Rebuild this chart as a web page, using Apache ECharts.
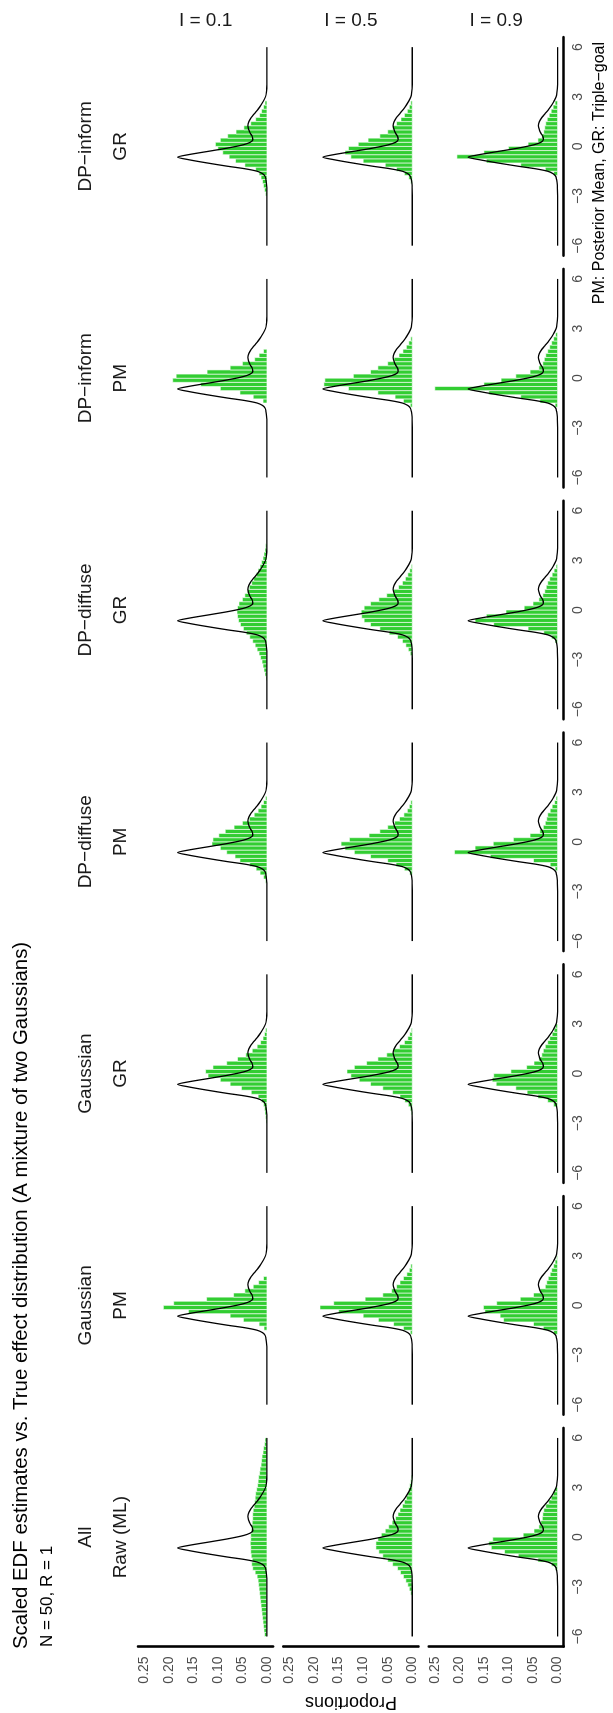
<!DOCTYPE html>
<html>
<head>
<meta charset="utf-8">
<title>Scaled EDF estimates vs. True effect distribution</title>
<script src="https://cdn.jsdelivr.net/npm/echarts@6/dist/echarts.min.js"></script>
<style>
  html, body { margin: 0; padding: 0; background: #ffffff; width: 613px; height: 1713px; overflow: hidden; }
  /* the figure is laid out landscape and turned a quarter turn counter-clockwise */
  #chart { position: absolute; left: 0; top: 0; width: 1713px; height: 613px;
           transform-origin: 0 0; transform: translate(0px, 1713px) rotate(-90deg); }
</style>
</head>
<body>
<div id="chart"></div>
<script>
// ---- facet labels ----
const groupLabels  = ['All', 'Gaussian', 'Gaussian', 'DP\u2212diffuse', 'DP\u2212diffuse', 'DP\u2212inform', 'DP\u2212inform'];
const methodLabels = ['Raw (ML)', 'PM', 'GR', 'PM', 'GR', 'PM', 'GR'];
const rowLabels    = ['I = 0.1', 'I = 0.5', 'I = 0.9'];

// ---- axis ticks ----
const xTicks = [-6, -3, 0, 3, 6];
const yTicks = [0, 0.05, 0.10, 0.15, 0.20, 0.25];

// ---- histogram bins (left edges, width 0.25) ----
const binWidth = 0.25;
const binLeft = [-6, -5.75, -5.5, -5.25, -5, -4.75, -4.5, -4.25,
                 -4, -3.75, -3.5, -3.25, -3, -2.75, -2.5, -2.25,
                 -2, -1.75, -1.5, -1.25, -1, -0.75, -0.5, -0.25,
                  0, 0.25, 0.5, 0.75, 1, 1.25, 1.5, 1.75,
                  2, 2.25, 2.5, 2.75, 3, 3.25, 3.5, 3.75,
                  4, 4.25, 4.5, 4.75, 5, 5.25, 5.5, 5.75];

// ---- proportions per bin, one array per panel ----
// Raw (ML)
const raw01 = [.005,.006,.007,.008,.009,.010,.011,.012, .013,.014,.015,.016,.017,.018,.020,.024,
               .029,.031,.030,.032,.033,.033,.034,.033, .033,.032,.031,.030,.029,.029,.028,.026,
               .025,.024,.023,.021,.019,.018,.017,.015, .014,.012,.011,.010,.008,.007,.005,.004];
const raw05 = [0,0,0,0,0,0,0,0, 0,0,.003,.006,.009,.013,.018,.024,
               .030,.040,.050,.060,.068,.074,.074,.070, .063,.055,.048,.041,.034,.029,.025,.020,
               .016,.012,.009,.007,.005,.003,.002,0, 0,0,0,0,0,0,0,0];
const raw09 = [0,0,0,0,0,0,0,0, 0,0,0,0,0,0,0,0,
               .004,.012,.040,.080,.108,.135,.140,.132, .070,.048,.038,.034,.031,.030,.028,.024,
               .018,.013,.009,.005,0,0,0,0, 0,0,0,0,0,0,0,0];
// Gaussian, posterior mean
const gausPM01 = [0,0,0,0,0,0,0,0, 0,0,0,0,0,0,0,0,
                  0,0,.006,.016,.048,.075,.160,.211, .190,.123,.068,.045,.028,.017,.007,0,
                  0,0,0,0,0,0,0,0, 0,0,0,0,0,0,0,0];
const gausPM05 = [0,0,0,0,0,0,0,0, 0,0,0,0,0,0,0,0,
                  0,.004,.018,.038,.069,.100,.150,.188, .160,.096,.060,.042,.032,.025,.018,.011,
                  .006,.003,0,0,0,0,0,0, 0,0,0,0,0,0,0,0];
const gausPM09 = [0,0,0,0,0,0,0,0, 0,0,0,0,0,0,0,0,
                  0,.008,.029,.049,.110,.117,.148,.151, .124,.076,.049,.036,.025,.022,.019,.015,
                  .012,.008,.005,.002,0,0,0,0, 0,0,0,0,0,0,0,0];
// Gaussian, triple-goal
const gausGR01 = [0,0,0,0,0,0,0,0, 0,0,0,0,.002,.003,.004,.005,
                  .007,.011,.018,.032,.052,.075,.095,.120, .125,.110,.082,.060,.043,.030,.020,.013,
                  .008,.005,.003,0,0,0,0,0, 0,0,0,0,0,0,0,0];
const gausGR05 = [0,0,0,0,0,0,0,0, 0,0,0,0,0,0,.002,.004,
                  .008,.015,.025,.040,.060,.085,.108,.125, .133,.118,.093,.070,.052,.038,.026,.016,
                  .009,.005,.002,0,0,0,0,0, 0,0,0,0,0,0,0,0];
const gausGR09 = [0,0,0,0,0,0,0,0, 0,0,0,0,0,0,0,0,
                  .008,.020,.040,.062,.085,.125,.133,.130, .095,.063,.048,.038,.032,.029,.025,.020,
                  .016,.011,.007,.004,0,0,0,0, 0,0,0,0,0,0,0,0];
// DP-diffuse, posterior mean
const dpdPM01 = [0,0,0,0,0,0,0,0, 0,0,0,0,0,0,.003,.007,
                 .014,.022,.035,.055,.065,.082,.095,.112, .110,.098,.085,.067,.050,.036,.026,.018,
                 .012,.007,.003,0,0,0,0,0, 0,0,0,0,0,0,0,0];
const dpdPM05 = [0,0,0,0,0,0,0,0, 0,0,0,0,0,0,0,0,
                 .005,.016,.033,.050,.085,.118,.137,.145, .128,.088,.066,.050,.036,.026,.017,.010,
                 .006,.003,0,0,0,0,0,0, 0,0,0,0,0,0,0,0];
const dpdPM09 = [0,0,0,0,0,0,0,0, 0,0,0,0,0,0,0,0,
                 0,.005,.015,.049,.137,.210,.168,.131, .090,.056,.036,.029,.025,.022,.020,.015,
                 .011,.006,.003,0,0,0,0,0, 0,0,0,0,0,0,0,0];
// DP-diffuse, triple-goal
const dpdGR01 = [0,0,0,0,0,0,0,.002, .004,.006,.008,.010,.013,.016,.020,.024,
                 .029,.035,.042,.048,.054,.058,.060,.061, .060,.057,.050,.045,.040,.036,.031,.027,
                 .022,.018,.014,.011,.008,.006,.004,.003, .001,0,0,0,0,0,0,0];
const dpdGR05 = [0,0,0,0,0,0,0,0, 0,0,0,0,0,.004,.008,.013,
                 .020,.030,.047,.066,.085,.098,.103,.104, .098,.085,.068,.052,.038,.028,.020,.014,
                 .009,.005,.002,0,0,0,0,0, 0,0,0,0,0,0,0,0];
const dpdGR09 = [0,0,0,0,0,0,0,0, 0,0,0,0,0,0,0,0,
                 .005,.012,.028,.060,.130,.168,.145,.105, .068,.050,.038,.030,.026,.023,.020,.016,
                 .011,.007,.003,0,0,0,0,0, 0,0,0,0,0,0,0,0];
// DP-inform, posterior mean
const dpiPM01 = [0,0,0,0,0,0,0,0, 0,0,0,0,0,0,0,0,
                 0,0,.008,.028,.055,.095,.135,.192, .185,.122,.075,.050,.025,.016,.007,0,
                 0,0,0,0,0,0,0,0, 0,0,0,0,0,0,0,0];
const dpiPM05 = [0,0,0,0,0,0,0,0, 0,0,0,0,0,0,0,0,
                 0,.004,.018,.035,.070,.130,.180,.178, .120,.085,.070,.050,.037,.027,.019,.012,
                 .007,.003,0,0,0,0,0,0, 0,0,0,0,0,0,0,0];
const dpiPM09 = [0,0,0,0,0,0,0,0, 0,0,0,0,0,0,0,0,
                 0,.005,.036,.075,.140,.250,.150,.115, .085,.056,.038,.030,.027,.024,.020,.016,
                 .012,.008,.004,0,0,0,0,0, 0,0,0,0,0,0,0,0];
// DP-inform, triple-goal
const dpiGR01 = [0,0,0,0,0,0,0,0, 0,0,0,0,.003,.005,.007,.009,
                 .012,.016,.023,.045,.064,.077,.090,.100, .105,.095,.080,.063,.047,.033,.023,.015,
                 .011,.007,.004,0,0,0,0,0, 0,0,0,0,0,0,0,0];
const dpiGR05 = [0,0,0,0,0,0,0,0, 0,0,0,0,0,0,0,.003,
                 .007,.016,.032,.055,.100,.125,.137,.130, .110,.090,.066,.050,.040,.032,.023,.016,
                 .010,.006,.003,0,0,0,0,0, 0,0,0,0,0,0,0,0];
const dpiGR09 = [0,0,0,0,0,0,0,0, 0,0,0,0,0,0,0,0,
                 0,.008,.025,.075,.145,.205,.150,.100, .060,.040,.032,.028,.026,.024,.021,.017,
                 .013,.009,.005,0,0,0,0,0, 0,0,0,0,0,0,0,0];

// ---- true effect distribution (proportion per bin width) ----
const curveX = [-6, -3, -2.5, -2.2, -2.0, -1.8, -1.65, -1.5, -1.35, -1.2, -1.0, -0.8, -0.65, -0.5,
                -0.3, -0.1, 0.1, 0.25, 0.4, 0.6, 0.8, 1.0, 1.25, 1.5, 1.75, 2.0, 2.25, 2.5,
                2.75, 3.0, 3.25, 3.5, 4.0, 6];
const curveY = [0, 0, 0.0003, 0.001, 0.002, 0.004, 0.009, 0.02, 0.045, 0.08, 0.122, 0.16, 0.182, 0.16,
                0.12, 0.08, 0.048, 0.034, 0.029, 0.03, 0.034, 0.037, 0.039, 0.037, 0.032, 0.025, 0.018, 0.012,
                0.007, 0.003, 0.0012, 0.0004, 0, 0];

// panels laid out as rows (I) by columns (method)
const panels = [
  [raw01, gausPM01, gausGR01, dpdPM01, dpdGR01, dpiPM01, dpiGR01],
  [raw05, gausPM05, gausGR05, dpdPM05, dpdGR05, dpiPM05, dpiGR05],
  [raw09, gausPM09, gausGR09, dpdPM09, dpdGR09, dpiPM09, dpiGR09]
];

// ---- layout (landscape pixels) ----
const FONT = "'Liberation Sans', Arial, Helvetica, sans-serif";
const GREEN = '#32cd32';
const PANEL_LEFT = 66.6, PANEL_W = 218.4, COL_STEP = 231.8;
const PANEL_TOP = 138.1, PANEL_H = 135, ROW_STEP = 145.3;
const nRows = rowLabels.length, nCols = methodLabels.length;

const minus = s => String(s).replace('-', '\u2212');

const grids = [], xAxes = [], yAxes = [], series = [];
for (let r = 0; r < nRows; r++) {
  for (let c = 0; c < nCols; c++) {
    const g = grids.length;
    const bottomRow = r === nRows - 1, leftCol = c === 0;
    grids.push({ left: PANEL_LEFT + c * COL_STEP, top: PANEL_TOP + r * ROW_STEP,
                 width: PANEL_W, height: PANEL_H, containLabel: false });
    xAxes.push({
      type: 'value', gridIndex: g, min: -6.6, max: 6.6,
      axisLine: { show: bottomRow, onZero: false, lineStyle: { color: '#000', width: 2.6 } },
      axisTick: { show: false }, splitLine: { show: false },
      axisLabel: { show: bottomRow, customValues: xTicks, formatter: v => minus(v),
                   color: '#4d4d4d', fontSize: 14, fontFamily: FONT, margin: 7 }
    });
    yAxes.push({
      type: 'value', gridIndex: g, min: -0.0125, max: 0.2625,
      axisLine: { show: leftCol, onZero: false, lineStyle: { color: '#000', width: 2.6 } },
      axisTick: { show: false }, splitLine: { show: false },
      axisLabel: { show: leftCol, customValues: yTicks, formatter: v => Number(v).toFixed(2),
                   color: '#4d4d4d', fontSize: 14, fontFamily: FONT, margin: 10 }
    });
    const vals = panels[r][c];
    series.push({
      type: 'custom', xAxisIndex: g, yAxisIndex: g, silent: true,
      data: binLeft.map((b, i) => [b, b + binWidth, vals[i]]).filter(d => d[2] > 0),
      encode: { x: [0, 1], y: 2 },
      renderItem: (params, api) => {
        const top = api.coord([api.value(0), api.value(2)]);
        const base = api.coord([api.value(1), 0]);
        return { type: 'rect',
                 shape: { x: top[0], y: top[1], width: base[0] - top[0], height: base[1] - top[1] },
                 style: { fill: GREEN, stroke: '#ffffff', lineWidth: 0.6 } };
      },
      z: 2
    });
    series.push({
      type: 'line', xAxisIndex: g, yAxisIndex: g, silent: true,
      data: curveX.map((x, i) => [x, curveY[i]]),
      showSymbol: false, smooth: 0.3,
      lineStyle: { color: '#000000', width: 1.3 }, z: 3
    });
  }
}

// ---- titles and strip labels ----
const txt = (text, x, y, size, color, align, rotation) => ({
  type: 'text', x, y, rotation: rotation || 0, silent: true,
  style: { text, fill: color, fontSize: size, fontFamily: FONT,
           align: align, verticalAlign: 'middle', textAlign: align, textVerticalAlign: 'middle' }
});
const graphics = [];
graphics.push(txt('Scaled EDF estimates vs. True effect distribution (A mixture of two Gaussians)',
                  64, 21.5, 20.4, '#000000', 'left'));
graphics.push(txt('N = 50, R = 1', 66, 47.5, 17, '#000000', 'left'));
for (let c = 0; c < nCols; c++) {
  const cx = PANEL_LEFT + c * COL_STEP + PANEL_W / 2;
  graphics.push(txt(groupLabels[c], cx, 86, 19, '#1a1a1a', 'center'));
  graphics.push(txt(methodLabels[c], cx, 121, 19, '#1a1a1a', 'center'));
}
for (let r = 0; r < nRows; r++) {
  const cy = PANEL_TOP + r * ROW_STEP + PANEL_H / 2;
  graphics.push(txt(rowLabels[r], 1692.5, cy, 19, '#1a1a1a', 'center', -Math.PI / 2));
}
graphics.push(txt('Proportions', 11, PANEL_TOP + ROW_STEP + PANEL_H / 2, 18, '#000000', 'center', Math.PI / 2));
graphics.push(txt('PM: Posterior Mean, GR: Triple\u2212goal', 1671, 600, 16, '#000000', 'right'));

const chart = echarts.init(document.getElementById('chart'), null, { renderer: 'canvas' });
chart.setOption({
  animation: false,
  backgroundColor: '#ffffff',
  grid: grids, xAxis: xAxes, yAxis: yAxes, series,
  graphic: graphics
});
</script>
</body>
</html>
